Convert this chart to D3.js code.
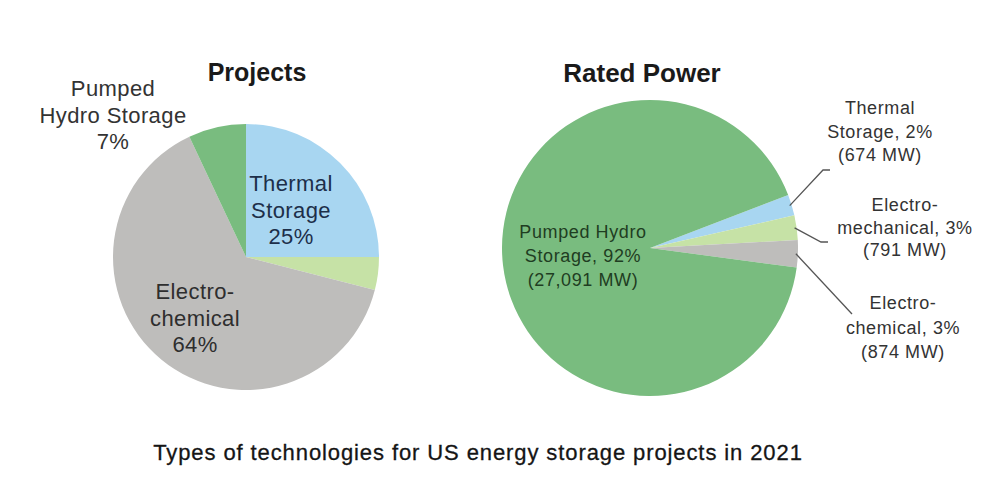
<!DOCTYPE html>
<html>
<head>
<meta charset="utf-8">
<script src="https://cdn.jsdelivr.net/npm/d3@7"></script>
<style>
  body { margin: 0; background: #fff; }
  svg text { font-family: 'Liberation Sans', Arial, sans-serif; }
</style>
</head>
<body>
<div id="chart"></div>
<script>
// same category order in both pies
const categories = ['Thermal Storage', 'Electro-mechanical', 'Electro-chemical', 'Pumped Hydro Storage']
const projectShares = [25, 4, 64, 7]          // % of projects
const ratedPowerMW = [674, 791, 874, 27091]    // MW
const ratedPowerPct = [2, 3, 3, 92]
const caption = 'Types of technologies for US energy storage projects in 2021'

const colors = ['#a8d6f1', '#c6e2a6', '#bebdbb', '#79bc7f']

const width = 1000
const height = 492

const svg = d3
  .select('#chart')
  .append('svg')
  .attr('width', width)
  .attr('height', height)

const colorScale = d3.scaleOrdinal().domain(categories).range(colors)

// ---- left pie: projects ----
const left = { cx: 246, cy: 257, r: 133 }
const leftData = categories.map((c, i) => ({ name: c, value: projectShares[i] }))

const leftPie = d3.pie().sort(null).value(d => d.value)
const leftArcs = leftPie(leftData)
const leftArc = d3.arc().innerRadius(0).outerRadius(left.r)

const gl = svg.append('g').attr('transform', 'translate(' + left.cx + ',' + left.cy + ')')

gl.selectAll('path')
  .data(leftArcs)
  .enter()
  .append('path')
  .attr('d', leftArc)
  .attr('fill', d => colorScale(d.data.name))

svg.append('text')
  .attr('x', 257)
  .attr('y', 81)
  .attr('text-anchor', 'middle')
  .attr('font-weight', 'bold')
  .attr('font-size', 25)
  .attr('fill', '#1a1a1a')
  .text('Projects')

// labels for the projects pie
const leftLabels = [
  { i: 0, x: 291, y: 191, lines: ['Thermal', 'Storage', projectShares[0] + '%'], fill: '#1d2f4a' },
  { i: 2, x: 195, y: 299, lines: ['Electro-', 'chemical', projectShares[2] + '%'], fill: '#2e2e2e' },
  { i: 3, x: 113, y: 96, lines: ['Pumped', 'Hydro Storage', projectShares[3] + '%'], fill: '#333' }
]

leftLabels.forEach(l => {
  const t = svg.append('text')
    .attr('text-anchor', 'middle')
    .attr('font-size', 22)
    .attr('letter-spacing', 0.4)
    .attr('fill', l.fill)
  l.lines.forEach((line, k) => {
    t.append('tspan').attr('x', l.x).attr('y', l.y + k * 26.5).text(line)
  })
})

// ---- right pie: rated power ----
const right = { cx: 650, cy: 248, r: 148 }
const rightData = categories.map((c, i) => ({ name: c, value: ratedPowerMW[i], pct: ratedPowerPct[i] }))

const rightPie = d3.pie()
  .sort(null)
  .value(d => d.value)
  .startAngle(69 * Math.PI / 180)
  .endAngle(69 * Math.PI / 180 + 2 * Math.PI)
const rightArcs = rightPie(rightData)
const rightArc = d3.arc().innerRadius(0).outerRadius(right.r)

const gr = svg.append('g').attr('transform', 'translate(' + right.cx + ',' + right.cy + ')')

gr.selectAll('path')
  .data(rightArcs)
  .enter()
  .append('path')
  .attr('d', rightArc)
  .attr('fill', d => colorScale(d.data.name))

svg.append('text')
  .attr('x', 642)
  .attr('y', 82)
  .attr('text-anchor', 'middle')
  .attr('font-weight', 'bold')
  .attr('font-size', 26)
  .attr('fill', '#1a1a1a')
  .text('Rated Power')

const fmt = d3.format(',')

// inside label for pumped hydro
const ph = rightData[3]
const phText = svg.append('text')
  .attr('text-anchor', 'middle')
  .attr('font-size', 18)
  .attr('letter-spacing', 0.6)
  .attr('fill', '#1f3d22')
;['Pumped Hydro', 'Storage, ' + ph.pct + '%', '(' + fmt(ph.value) + ' MW)'].forEach((line, k) => {
  phText.append('tspan').attr('x', 583).attr('y', 238 + k * 24).text(line)
})

// outside labels with leader lines
const outLabels = [
  { i: 0, x: 880, y: 114, gap: 23.5, lines: ['Thermal', 'Storage, ' + rightData[0].pct + '%', '(' + fmt(rightData[0].value) + ' MW)'], elbow: [823, 170], end: [830, 170] },
  { i: 1, x: 905, y: 211, gap: 22.5, lines: ['Electro-', 'mechanical, ' + rightData[1].pct + '%', '(' + fmt(rightData[1].value) + ' MW)'], elbow: [821, 242], end: [828, 242] },
  { i: 2, x: 903, y: 309, gap: 24.5, lines: ['Electro-', 'chemical, ' + rightData[2].pct + '%', '(' + fmt(rightData[2].value) + ' MW)'], elbow: [852, 314], end: [852, 314] }
]

outLabels.forEach(l => {
  const a = rightArcs[l.i]
  const mid = (a.startAngle + a.endAngle) / 2
  const sx = right.cx + Math.sin(mid) * (right.r - 2)
  const sy = right.cy - Math.cos(mid) * (right.r - 2)
  svg.append('polyline')
    .attr('points', [[sx, sy], l.elbow, l.end].map(p => p.join(',')).join(' '))
    .attr('fill', 'none')
    .attr('stroke', '#555')
    .attr('stroke-width', 1.3)

  const t = svg.append('text')
    .attr('text-anchor', 'middle')
    .attr('font-size', 18)
    .attr('letter-spacing', 0.6)
    .attr('fill', '#333')
  l.lines.forEach((line, k) => {
    t.append('tspan').attr('x', l.x).attr('y', l.y + k * l.gap).text(line)
  })
})

// caption
svg.append('text')
  .attr('x', 478)
  .attr('y', 460)
  .attr('text-anchor', 'middle')
  .attr('font-size', 22)
  .attr('letter-spacing', 0.9)
  .attr('fill', '#151515')
  .attr('stroke', '#151515')
  .attr('stroke-width', 0.3)
  .text(caption)
</script>
</body>
</html>
